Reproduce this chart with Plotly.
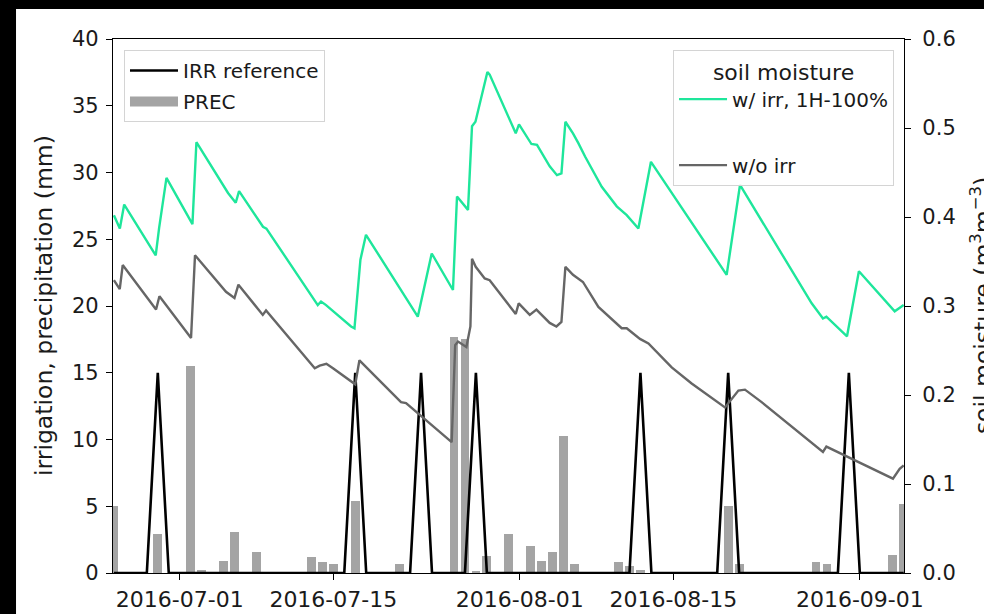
import pandas as pd
import plotly.graph_objects as go

# ---- daily irrigation / precipitation (mm) ----
days = pd.date_range("2016-06-25", "2016-09-05", freq="D")

prec_mm = [
    5.0, 0, 0, 0, 2.9, 0,                      # 06-25 .. 06-30
    0, 15.5, 0.2, 0, 0.9, 3.1, 0, 1.6, 0, 0,   # 07-01 .. 07-10
    0, 0, 1.2, 0.8, 0.7, 0, 5.4, 0, 0, 0,      # 07-11 .. 07-20
    0.7, 0, 0, 0, 0, 17.7, 17.5, 0.15, 1.3, 0, # 07-21 .. 07-30
    2.9,                                       # 07-31
    0, 2.0, 0.9, 1.6, 10.3, 0.7, 0, 0, 0, 0.8, # 08-01 .. 08-10
    0.5, 0.25, 0, 0, 0, 0, 0, 0, 0, 5.0,       # 08-11 .. 08-20
    0.7, 0, 0, 0, 0, 0, 0, 0.8, 0.7, 0,        # 08-21 .. 08-30
    0,                                         # 08-31
    0, 0, 0, 1.35, 5.2,                        # 09-01 .. 09-05
]

irr_dates = ["2016-06-29", "2016-07-17", "2016-07-23", "2016-07-28",
             "2016-08-12", "2016-08-20", "2016-08-31"]
irr_amount = 15.0
irr_mm = [irr_amount if d.strftime("%Y-%m-%d") in irr_dates else 0.0 for d in days]

# ---- soil moisture (m3 m-3) ----
sm_irr_t = [
    "2016-06-25 00:00", "2016-06-25 13:00", "2016-06-25 22:30", "2016-06-28 19:30",
    "2016-06-29 03:00", "2016-06-29 19:00", "2016-07-02 03:50", "2016-07-02 12:30",
    "2016-07-05 09:40", "2016-07-06 02:30", "2016-07-06 09:50", "2016-07-08 14:10",
    "2016-07-08 21:40", "2016-07-13 14:00", "2016-07-13 21:10", "2016-07-14 08:10",
    "2016-07-16 14:50", "2016-07-16 22:20", "2016-07-17 11:20", "2016-07-17 23:30",
    "2016-07-22 16:50", "2016-07-23 23:20", "2016-07-25 21:50", "2016-07-26 06:40",
    "2016-07-27 06:45", "2016-07-27 15:30", "2016-07-27 23:00", "2016-07-29 01:10",
    "2016-07-29 06:10", "2016-07-31 15:10", "2016-07-31 22:20", "2016-08-02 01:30",
    "2016-08-02 13:40", "2016-08-03 17:30", "2016-08-04 09:20", "2016-08-04 19:10",
    "2016-08-05 03:50", "2016-08-05 20:25", "2016-08-06 08:10", "2016-08-06 22:50",
    "2016-08-08 11:20", "2016-08-09 20:10", "2016-08-10 18:00", "2016-08-11 19:30",
    "2016-08-12 23:00", "2016-08-19 20:40", "2016-08-21 01:50", "2016-08-27 14:40",
    "2016-08-28 15:20", "2016-08-28 22:50", "2016-08-30 20:00", "2016-08-31 22:00",
    "2016-09-04 04:20", "2016-09-04 19:00", "2016-09-05 00:00",
]
sm_irr = [
    0.402, 0.387, 0.414, 0.357,
    0.388, 0.444, 0.392, 0.484,
    0.427, 0.416, 0.429, 0.389,
    0.387, 0.301, 0.305, 0.301,
    0.277, 0.275, 0.352, 0.380,
    0.288, 0.359, 0.318, 0.423,
    0.408, 0.502, 0.507, 0.563,
    0.560, 0.494, 0.504, 0.482,
    0.481, 0.457, 0.447, 0.449,
    0.507, 0.494, 0.483, 0.468,
    0.434, 0.412, 0.402, 0.387,
    0.462, 0.335, 0.436, 0.303,
    0.286, 0.288, 0.266, 0.339,
    0.294, 0.299, 0.301,
]

sm_noirr_t = [
    "2016-06-25 00:00", "2016-06-25 12:45", "2016-06-25 19:15", "2016-06-28 20:10",
    "2016-06-29 03:35", "2016-07-02 00:45", "2016-07-02 09:25", "2016-07-05 05:15",
    "2016-07-05 23:45", "2016-07-06 08:25", "2016-07-08 13:40", "2016-07-08 20:50",
    "2016-07-13 07:25", "2016-07-13 18:15", "2016-07-14 08:55", "2016-07-14 23:20",
    "2016-07-17 00:00", "2016-07-17 09:10", "2016-07-21 04:10", "2016-07-21 15:10",
    "2016-07-25 19:00", "2016-07-26 02:40", "2016-07-26 08:50", "2016-07-27 03:10",
    "2016-07-27 12:00", "2016-07-27 15:30", "2016-07-27 23:35", "2016-07-28 19:15",
    "2016-07-29 06:10", "2016-07-31 15:10", "2016-07-31 21:40", "2016-08-01 21:50",
    "2016-08-02 12:25", "2016-08-03 17:30", "2016-08-04 08:10", "2016-08-04 19:10",
    "2016-08-05 03:50", "2016-08-05 20:25", "2016-08-06 18:15", "2016-08-08 04:00",
    "2016-08-10 07:00", "2016-08-10 18:00", "2016-08-11 23:00", "2016-08-12 17:30",
    "2016-08-14 20:25", "2016-08-16 16:05", "2016-08-19 17:00", "2016-08-20 22:20",
    "2016-08-21 12:45", "2016-08-23 01:10", "2016-08-28 15:20", "2016-08-28 22:50",
    "2016-09-04 00:30", "2016-09-04 15:10", "2016-09-05 00:00",
]
sm_noirr = [
    0.329, 0.319, 0.346, 0.296,
    0.311, 0.264, 0.357, 0.316,
    0.309, 0.324, 0.290, 0.295,
    0.230, 0.233, 0.235, 0.230,
    0.212, 0.239, 0.192, 0.191,
    0.147, 0.256, 0.260, 0.254,
    0.277, 0.353, 0.344, 0.331,
    0.329, 0.291, 0.303, 0.290,
    0.296, 0.281, 0.277, 0.282,
    0.344, 0.335, 0.327, 0.299,
    0.275, 0.275, 0.263, 0.258,
    0.231, 0.213, 0.186, 0.205,
    0.206, 0.192, 0.136, 0.142,
    0.106, 0.117, 0.121,
]

date_ticks = ["2016-07-01", "2016-07-15", "2016-08-01", "2016-08-15", "2016-09-01"]
mm_ticks = [0, 5, 10, 15, 20, 25, 30, 35, 40]
sm_ticks = [0.0, 0.1, 0.2, 0.3, 0.4, 0.5, 0.6]

FONT = "DejaVu Sans"
TXT = "#1a1a1a"
PREC_COLOR = "#a4a4a4"
IRR_COLOR = "#000000"
WET_COLOR = "#1ee69b"
DRY_COLOR = "#666666"

fig = go.Figure()

fig.add_trace(go.Bar(
    x=days, y=prec_mm, width=0.8 * 86400000,
    marker=dict(color=PREC_COLOR, line=dict(width=0)),
    name="PREC", legend="legend", legendgroup="prec", showlegend=False,
))
fig.add_trace(go.Scatter(
    x=days, y=irr_mm, mode="lines", line=dict(color=IRR_COLOR, width=2.6),
    name="IRR reference", legend="legend", legendgroup="irr",
))
# legend key for the precipitation bars (wide patch)
fig.add_trace(go.Scatter(
    x=[None], y=[None], mode="lines", line=dict(color=PREC_COLOR, width=12),
    name="PREC", legend="legend", legendgroup="prec",
))
fig.add_trace(go.Scatter(
    x=pd.to_datetime(sm_irr_t), y=sm_irr, mode="lines", yaxis="y2",
    line=dict(color=WET_COLOR, width=2.4),
    name="w/ irr, 1H-100%", legend="legend2", legendgroup="wet",
))
fig.add_trace(go.Scatter(
    x=pd.to_datetime(sm_noirr_t), y=sm_noirr, mode="lines", yaxis="y2",
    line=dict(color=DRY_COLOR, width=2.4),
    name="w/o irr", legend="legend2", legendgroup="dry",
))

axis_common = dict(
    showline=True, linecolor="black", linewidth=1.3,
    ticks="outside", ticklen=6, tickwidth=1.3, tickcolor="black",
    showgrid=False, zeroline=False, automargin=False,
    tickfont=dict(family=FONT, size=21, color=TXT),
)

fig.update_layout(
    width=984, height=614,
    margin=dict(l=113, r=80, t=39, b=41, autoexpand=False),
    paper_bgcolor="black", plot_bgcolor="white",
    font=dict(family=FONT, color=TXT),
    bargap=0,
    xaxis=dict(
        type="date",
        range=["2016-06-24 22:00", "2016-09-05 00:40"],
        tickvals=date_ticks, ticktext=date_ticks,
        mirror=True,
        **{**axis_common, "tickfont": dict(family=FONT, size=22, color=TXT)},
    ),
    yaxis=dict(range=[0, 40], tickvals=mm_ticks, mirror=True,
               ticklabelstandoff=3, **axis_common),
    yaxis2=dict(
        range=[0, 0.6], tickvals=sm_ticks,
        ticktext=[f"{v:.1f}" for v in sm_ticks],
        overlaying="y", side="right", ticklabelstandoff=7, **axis_common,
    ),
    legend=dict(
        x=0.0139, y=0.9794, xanchor="left", yanchor="top",
        bgcolor="rgba(255,255,255,0.8)", bordercolor="#d4d4d4", borderwidth=1,
        font=dict(family=FONT, size=20, color=TXT),
        itemwidth=48,
        tracegroupgap=2, traceorder="grouped",
    ),
    legend2=dict(
        x=0.9874, y=0.9794, xanchor="right", yanchor="top",
        bgcolor="rgba(255,255,255,0.8)", bordercolor="#d4d4d4", borderwidth=1,
        font=dict(family=FONT, size=20, color=TXT),
        itemwidth=48,
        title=dict(text="soil moisture", side="top center",
                   font=dict(family=FONT, size=22, color=TXT)),
        tracegroupgap=37, traceorder="grouped",
    ),
    shapes=[dict(
        type="rect", xref="paper", yref="paper",
        x0=-0.1226, x1=1.2, y0=-0.2, y1=1.0562,
        fillcolor="white", line=dict(width=0), layer="below",
    )],
    annotations=[
        dict(text="irrigation, precipitation (mm)", xref="paper", yref="paper",
             x=-0.0872, y=0.5, xanchor="center", yanchor="middle",
             textangle=-90, showarrow=False,
             font=dict(family=FONT, size=23.5, color=TXT)),
        dict(text="soil moisture (m<sup>3</sup>m<sup>\u22123</sup>)",
             xref="paper", yref="paper",
             x=1.0975, y=0.5, xanchor="center", yanchor="middle",
             textangle=-90, showarrow=False,
             font=dict(family=FONT, size=23.5, color=TXT)),
    ],
)

fig.write_html("out.html")
